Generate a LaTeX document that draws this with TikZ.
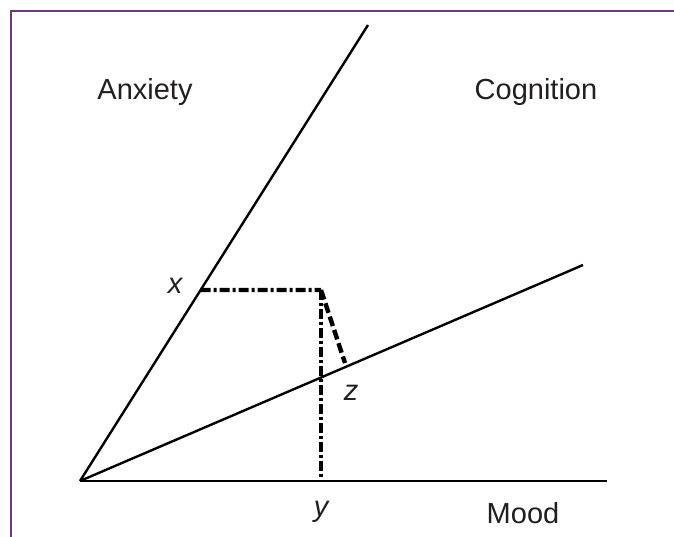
\documentclass[tikz,border=0pt]{standalone}
\usepackage{fontspec}
\setmainfont{Liberation Sans}
\usepackage{tikz}
\usetikzlibrary{calc}
\definecolor{framepurple}{HTML}{6E3A7E}
\definecolor{inkgray}{HTML}{231F20}

\begin{document}
\begin{tikzpicture}[x=1pt, y=-1pt,
  axis/.style={draw=black, line width=2.4pt},
  proj/.style={draw=black, line width=4.4pt,
    dash pattern=on 10pt off 3pt on 3pt off 3pt},
  drop/.style={draw=black, line width=4.4pt, dash pattern=on 10pt off 4pt},
  lbl/.style={font=\fontsize{29}{34}\selectfont, text=inkgray, inner sep=0pt,
    anchor=base},
  pt/.style={lbl, font=\fontsize{29}{34}\selectfont\itshape}]
\useasboundingbox (0,0) rectangle (674,536);
\fill[white] (0,0) rectangle (674,536);
\draw[framepurple, line width=2pt] (10.5,540) -- (10.5,10.5) -- (680,10.5);
% axes
\coordinate (O) at (80,481);
\coordinate (anx) at (368,25);
\coordinate (cog) at (583,265);
\coordinate (mood) at (607,481);
\draw[axis] (O) -- (anx);
\draw[axis] (O) -- (cog);
\draw[axis] (O) -- (mood);
% projections
\coordinate (px) at ($(O)!0.4189!(anx)$);
\coordinate (corner) at (321,290);
\coordinate (py) at (321,481);
\coordinate (pz) at (345,363);
\draw[proj] (px) -- (corner);
\draw[proj] (corner) -- (py);
\draw[drop] (corner) -- (pz);
% labels
\node[lbl] (anxlbl) at (145,99) {Anxiety};
\node[lbl] (coglbl) at (536,99) {Cognition};
\node[lbl] (moodlbl) at (523,523) {Mood};
\node[pt] (xlbl) at (175,293) {x};
\node[pt] (zlbl) at (351,400) {z};
\node[pt] (ylbl) at (321,516) {y};
\end{tikzpicture}
\end{document}
